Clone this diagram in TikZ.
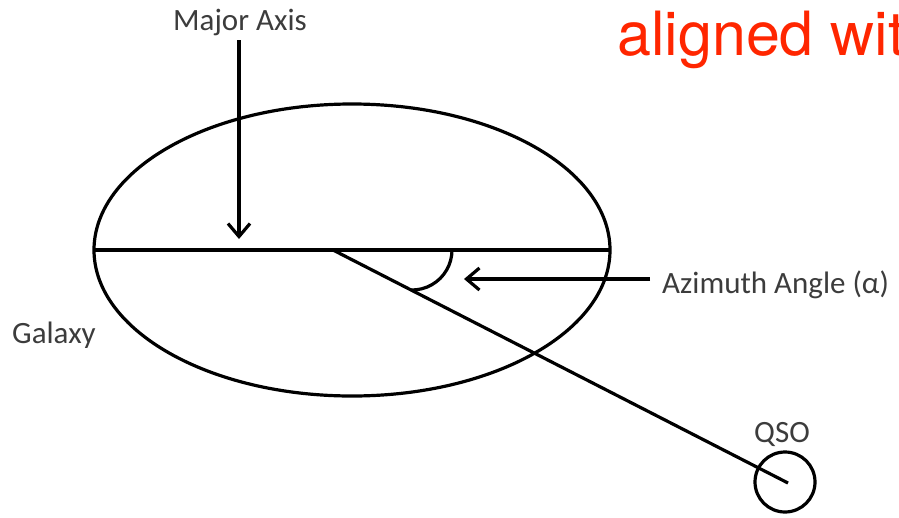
\documentclass[tikz,border=0pt]{standalone}
\usepackage{fontspec}
\setmainfont{Carlito}
\newfontfamily\redfont{TeX Gyre Heros}
\usetikzlibrary{arrows.meta}
\definecolor{redtxt}{RGB}{255,38,0}
\definecolor{lbl}{RGB}{60,60,60}
\tikzset{
  lw/.style={line width=3.2pt},
  arr/.style={lw,-{Straight Barb[length=13pt,width=22pt]}},
  label/.style={text=lbl,font=\fontsize{31}{36}\selectfont,inner sep=0pt},
}
\begin{document}
\begin{tikzpicture}[x=1pt,y=-1pt]
\useasboundingbox (0,0) rectangle (899,517);
% galaxy
\draw[lw] (352,250) ellipse [x radius=258, y radius=146];
\coordinate (axL) at (95,250);
\coordinate (axR) at (610,250);
\draw[lw] (axL) -- (axR);
% QSO
\node[lw,draw,circle,minimum size=60pt,inner sep=0pt] (qsoc) at (785,482) {};
\coordinate (vert) at (333,250);
\coordinate (qsoend) at (788,483);
\draw[lw] (vert) -- (qsoend);
% angle arc
\coordinate (arcstart) at (452,250);
\draw[lw] (arcstart) arc[start angle=0,end angle=92,radius=40];
% labels
\node[label,anchor=base] (major) at (240,30) {Major Axis};
\coordinate (majtop) at (239,40);
\coordinate (majtip) at (239,239);
\draw[arr] (majtop) -- (majtip);
\node[label,anchor=base west] (azi) at (662,293) {Azimuth Angle (\symbol{"03B1})};
\coordinate (azistart) at (650,279);
\coordinate (azitip) at (464,279);
\draw[arr] (azistart) -- (azitip);
\node[label,anchor=base west] (gal) at (12,343) {Galaxy};
\node[label,anchor=base] (qso) at (782,442) {QSO};
\node[anchor=base west,inner sep=0pt,text=redtxt,font=\redfont\fontsize{61}{70}\selectfont] (red) at (617,55) {aligned wit};
\end{tikzpicture}
\end{document}
